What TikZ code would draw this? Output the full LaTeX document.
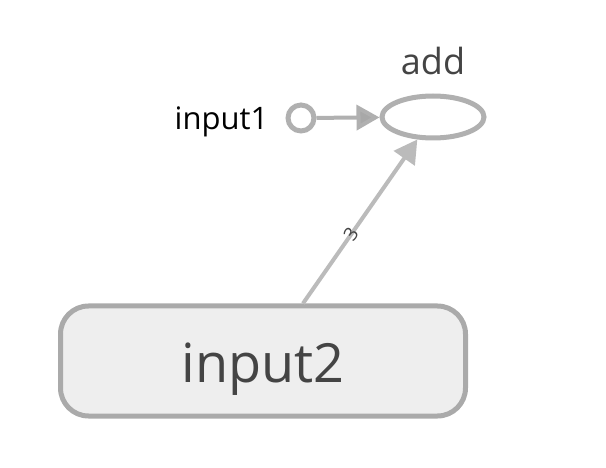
\documentclass[tikz,border=0pt]{standalone}
\usepackage{fontspec}
\setmainfont{Open Sans}
\usepackage{tikz}
\usetikzlibrary{arrows.meta,shapes.geometric,positioning}
\definecolor{ringgray}{HTML}{B0B0B0}
\definecolor{boxgray}{HTML}{AAAAAA}
\definecolor{boxfill}{HTML}{EEEEEE}
\definecolor{edgegray}{HTML}{BBBBBB}
\definecolor{tipgray}{HTML}{A8A8A8}
\definecolor{textgray}{HTML}{444444}
\tikzset{x=1pt,y=-1pt,
    opnode/.style={ellipse,draw=ringgray,line width=5pt,fill=white,
        minimum width=102pt,minimum height=42pt,inner sep=0pt},
    inputdot/.style={circle,draw=ringgray,line width=5pt,fill=white,
        minimum size=26pt,inner sep=0pt},
    bignode/.style={rectangle,rounded corners=28pt,draw=boxgray,line width=5pt,
        fill=boxfill,minimum width=405pt,minimum height=110pt,
        text height=42pt,text depth=0pt,
        text=textgray,font=\fontsize{54}{62}\selectfont},
    namelabel/.style={inner sep=2pt},
    dataedge/.style={draw=edgegray,line width=4pt,
        -{Triangle[length=23pt,width=25pt]}},
    shapelabel/.style={font=\fontsize{19}{22}\selectfont,text=textgray,inner sep=1pt}}

\begin{document}
\begin{tikzpicture}
    \useasboundingbox (0,0) rectangle (606,468);
    \node[opnode] (add) at (433,117) {};
    \node[namelabel,above=16pt of add,text=textgray,
        font=\fontsize{36}{40}\selectfont] (addname) {add};
    \node[inputdot] (in1) at (301,118) {};
    \node[namelabel,left=15pt of in1,yshift=-4pt,font=\fontsize{31}{36}\selectfont] (in1name) {input1};
    \node[bignode] (in2) at (263,361) {input2};
    \draw[dataedge,draw=ringgray,-{Triangle[length=23pt,width=25pt,fill=tipgray]}]
        (in1) -- (add);
    \draw[dataedge] (in2) -- node[pos=0.42,sloped,shapelabel] (in2dims) {3} (add);
\end{tikzpicture}
\end{document}
